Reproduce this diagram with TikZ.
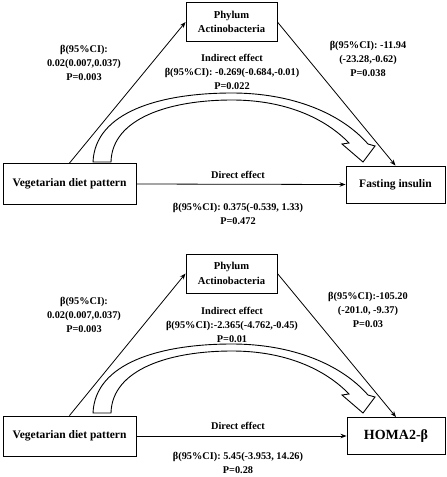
\documentclass[tikz,border=0pt]{standalone}
\usepackage{fontspec}
\setmainfont{Liberation Serif}
\usetikzlibrary{arrows.meta}
\begin{document}
\begin{tikzpicture}[x=1pt,y=-1pt,
  box/.style={draw,line width=0.9pt,inner sep=0pt,align=center,font=\bfseries\fontsize{11.5}{13}\selectfont},
  pbox/.style={box,minimum width=91pt,minimum height=38.5pt,font=\bfseries\fontsize{10.6}{14.5}\selectfont},
  lbl/.style={font=\bfseries\fontsize{10.3}{14}\selectfont,align=center,inner sep=0pt},
  conn/.style={line width=0.8pt,-{Stealth[length=6pt,width=4.5pt]}},
  hollow/.style={draw,fill=white,line width=0.9pt,line join=miter}]
\useasboundingbox (0,0) rectangle (447,477);

% ---------- top panel ----------
\node[pbox] (p1) at (231.5,22) {Phylum\\Actinobacteria};
\node[box,minimum width=133pt,minimum height=41pt] (v1) at (69.5,184) {Vegetarian diet pattern};
\node[box,minimum width=99pt,minimum height=37pt] (f1) at (395.5,184.5) {Fasting insulin};

\path[hollow] (93,162) .. controls (95,112) and (160,93) .. (232,93)
  .. controls (290,93) and (340,112) .. (368,144)
  -- (375,146) -- (363,162) -- (342,144) -- (349,143)
  .. controls (325,118) and (285,100) .. (232,100)
  .. controls (170,100) and (112,118) .. (111,162) -- cycle;

\draw[conn] (v1.north) -- (p1.west);
\draw[conn] (p1.east) -- (f1.north);
\draw[conn] (v1.east) -- (f1.west);

\node[lbl] (l1) at (84,63) {β(95\%CI):\\0.02(0.007,0.037)\\P=0.003};
\node[lbl] (i1) at (232,72) {Indirect effect\\β(95\%CI): -0.269(-0.684,-0.01)\\P=0.022};
\node[lbl] (r1) at (368,59) {β(95\%CI): -11.94\\(-23.28,-0.62)\\P=0.038};
\node[lbl] (d1) at (238,175) {Direct effect};
\node[lbl] (e1) at (238,214) {β(95\%CI): 0.375(-0.539, 1.33)\\P=0.472};

% ---------- bottom panel ----------
\node[pbox,minimum height=39pt] (p2) at (231.5,273.5) {Phylum\\Actinobacteria};
\node[box,minimum width=133pt,minimum height=40pt] (v2) at (69.5,436) {Vegetarian diet pattern};
\node[box,minimum width=98pt,minimum height=37pt,font=\bfseries\fontsize{14}{16}\selectfont] (h2) at (396,436) {HOMA2-β};

\begin{scope}[shift={(0,251)}]
\path[hollow] (93,162) .. controls (95,112) and (160,93) .. (232,93)
  .. controls (290,93) and (340,112) .. (368,144)
  -- (375,146) -- (363,162) -- (342,144) -- (349,143)
  .. controls (325,118) and (285,100) .. (232,100)
  .. controls (170,100) and (112,118) .. (111,162) -- cycle;
\end{scope}

\draw[conn] (v2.north) -- (p2.west);
\draw[conn] (p2.east) -- (h2.north);
\draw[conn] (v2.east) -- (h2.west);

\node[lbl] (l2) at (84,315) {β(95\%CI):\\0.02(0.007,0.037)\\P=0.003};
\node[lbl] (i2) at (232,325) {Indirect effect\\β(95\%CI):-2.365(-4.762,-0.45)\\P=0.01};
\node[lbl] (r2) at (368,310) {β(95\%CI):-105.20\\(-201.0, -9.37)\\P=0.03};
\node[lbl] (d2) at (238,426) {Direct effect};
\node[lbl] (e2) at (238,463) {β(95\%CI): 5.45(-3.953, 14.26)\\P=0.28};
\end{tikzpicture}
\end{document}
